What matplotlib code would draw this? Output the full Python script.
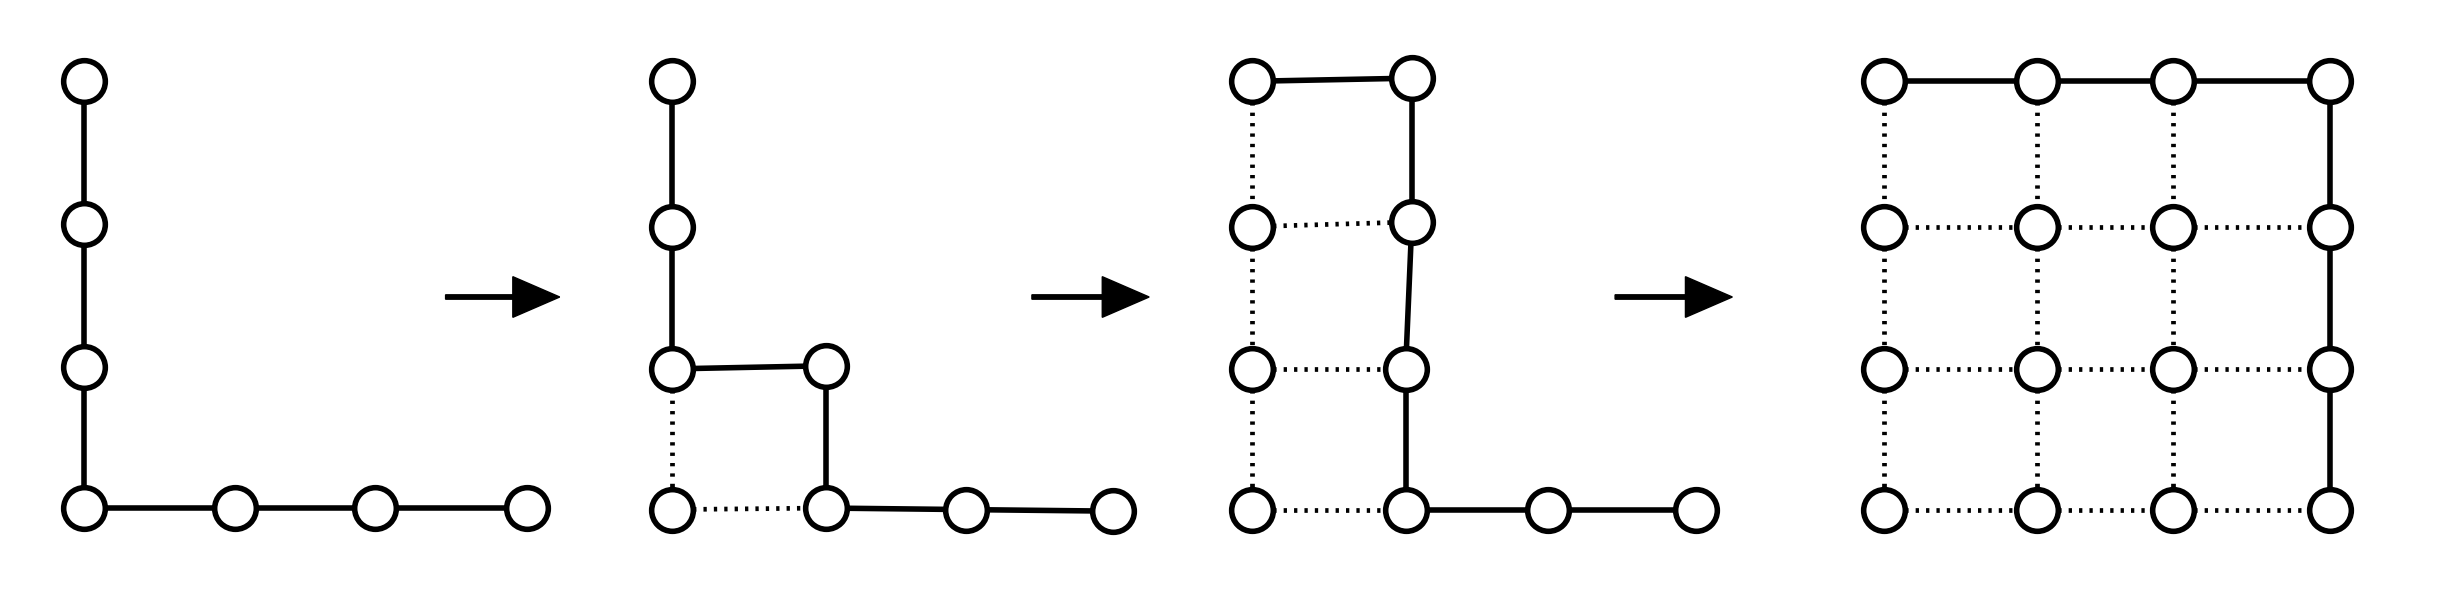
import matplotlib.pyplot as plt

# node positions per panel (x, y in picture units, y grows downward)
panel1_nodes = [(54, 52), (54, 143), (54, 235), (54, 325), (150, 325), (240, 325), (337, 325)]
panel1_solid = [(0, 1), (1, 2), (2, 3), (3, 4), (4, 5), (5, 6)]
panel1_dotted = []

panel2_nodes = [(430, 52), (430, 145), (430, 236), (528, 234), (528, 325), (618, 326), (712, 327), (430, 326)]
panel2_solid = [(0, 1), (1, 2), (2, 3), (3, 4), (4, 5), (5, 6)]
panel2_dotted = [(2, 7), (7, 4)]

panel3_nodes = [(801, 52), (903, 50), (801, 145), (903, 142), (801, 236), (899, 236),
                (801, 326), (899, 326), (990, 326), (1085, 326)]
panel3_solid = [(0, 1), (1, 3), (3, 5), (5, 7), (7, 8), (8, 9)]
panel3_dotted = [(0, 2), (2, 4), (4, 6), (2, 3), (4, 5), (6, 7)]

grid_x = [1205, 1303, 1390, 1490]
grid_y = [52, 145, 236, 326]
panel4_nodes = [(x, y) for y in grid_y for x in grid_x]
panel4_solid = [(0, 1), (1, 2), (2, 3), (3, 7), (7, 11), (11, 15)]
panel4_dotted = []
for r in range(4):
    for c in range(4):
        i = r * 4 + c
        if c < 3 and r > 0:
            panel4_dotted.append((i, i + 1))
        if r < 3 and c < 3:
            panel4_dotted.append((i, i + 4))

arrows = [(285, 358), (660, 735), (1033, 1108)]
arrow_y = 190

panels = [
    (panel1_nodes, panel1_solid, panel1_dotted),
    (panel2_nodes, panel2_solid, panel2_dotted),
    (panel3_nodes, panel3_solid, panel3_dotted),
    (panel4_nodes, panel4_solid, panel4_dotted),
]

fig = plt.figure(figsize=(24.5, 5.94), dpi=100)
ax = fig.add_axes([0, 0, 1, 1])
ax.set_xlim(0, 1567)
ax.set_ylim(380, 0)
ax.axis("off")

for nodes, solid, dotted in panels:
    for a, b in solid:
        ax.plot([nodes[a][0], nodes[b][0]], [nodes[a][1], nodes[b][1]],
                color="black", lw=4.0, zorder=1, solid_capstyle="butt")
    for a, b in dotted:
        ax.plot([nodes[a][0], nodes[b][0]], [nodes[a][1], nodes[b][1]],
                color="black", lw=3.4, linestyle=(0, (0.7, 1.5)), zorder=1)
    xs = [p[0] for p in nodes]
    ys = [p[1] for p in nodes]
    ax.plot(xs, ys, "o", ls="none", markersize=30, markerfacecolor="white",
            markeredgecolor="black", markeredgewidth=4.0, zorder=2)

for x0, x1 in arrows:
    ax.arrow(x0, arrow_y, x1 - x0, 0, width=2.8, head_width=26, head_length=30,
             length_includes_head=True, color="black")

fig.savefig("out.png", dpi=100)
